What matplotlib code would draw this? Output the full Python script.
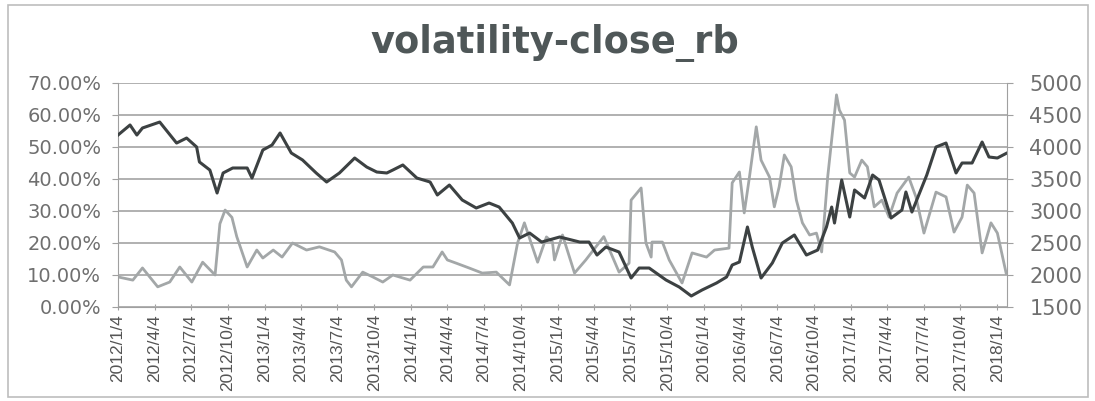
import matplotlib
matplotlib.use("Agg")
import matplotlib.pyplot as plt
import pandas as pd
from matplotlib.patches import Rectangle

title = "volatility-close_rb"

price_dates = ["2012-01-04","2012-02-03","2012-02-20","2012-03-05","2012-04-17","2012-05-29",
    "2012-06-23","2012-07-18","2012-07-25","2012-08-20","2012-09-07","2012-09-22","2012-10-16",
    "2012-11-21","2012-12-03","2012-12-30","2013-01-22","2013-02-11","2013-03-11","2013-04-08",
    "2013-05-12","2013-06-07","2013-07-09","2013-08-16","2013-09-15","2013-10-10","2013-11-04",
    "2013-11-19","2013-12-14","2014-01-18","2014-02-20","2014-03-10","2014-04-09","2014-05-11",
    "2014-06-15","2014-07-17","2014-08-11","2014-09-13","2014-10-01","2014-10-26","2014-11-25",
    "2015-01-09","2015-02-28","2015-03-23","2015-04-12","2015-05-04","2015-06-06","2015-07-06",
    "2015-07-26","2015-08-20","2015-10-01","2015-11-03","2015-12-03","2015-12-30","2016-02-04",
    "2016-02-29","2016-03-14","2016-04-01","2016-04-21","2016-05-03","2016-05-25","2016-06-22",
    "2016-07-17","2016-08-16","2016-09-15","2016-10-13","2016-11-04","2016-11-17","2016-11-24",
    "2016-12-12","2017-01-01","2017-01-13","2017-02-07","2017-02-27","2017-03-15","2017-04-14",
    "2017-05-11","2017-05-21","2017-06-05","2017-07-12","2017-08-04","2017-08-29","2017-09-23",
    "2017-10-08","2017-11-02","2017-11-27","2017-12-14","2018-01-04","2018-01-26"]
price_values = [4187,4344,4187,4297,4390,4062,4140,4000,3766,3640,3281,3594,3672,3672,3515,3953,
    4031,4219,3906,3797,3594,3453,3594,3828,3687,3609,3594,3640,3719,3515,3453,3250,3406,3172,
    3047,3125,3062,2812,2578,2656,2515,2594,2515,2515,2312,2437,2359,1953,2109,2109,1922,1812,
    1672,1766,1875,1969,2156,2203,2750,2437,1953,2187,2500,2625,2312,2390,2750,3062,2812,3484,
    2906,3328,3203,3562,3484,2890,3015,3297,2984,3562,4000,4062,3594,3750,3750,4078,3844,3828,3900]

vol_dates = ["2012-01-04","2012-02-10","2012-03-05","2012-03-23","2012-04-12","2012-05-12",
    "2012-06-06","2012-07-06","2012-08-02","2012-09-02","2012-09-14","2012-09-27","2012-10-14",
    "2012-10-26","2012-11-21","2012-12-15","2012-12-30","2013-01-25","2013-02-16","2013-03-14",
    "2013-04-18","2013-05-20","2013-06-27","2013-07-14","2013-07-26","2013-08-08","2013-09-05",
    "2013-09-30","2013-10-25","2013-11-19","2014-01-01","2014-02-03","2014-02-27","2014-03-22",
    "2014-04-04","2014-04-26","2014-05-28","2014-06-30","2014-08-04","2014-09-06","2014-09-26",
    "2014-10-13","2014-11-02","2014-11-15","2014-12-07","2014-12-22","2014-12-27","2015-01-16",
    "2015-02-15","2015-03-15","2015-04-29","2015-06-06","2015-07-01","2015-07-06","2015-07-31",
    "2015-08-12","2015-08-25","2015-08-27","2015-09-22","2015-10-09","2015-11-10","2015-12-05",
    "2016-01-10","2016-01-30","2016-03-06","2016-03-14","2016-04-01","2016-04-13","2016-04-26",
    "2016-05-13","2016-05-25","2016-06-15","2016-06-27","2016-07-09","2016-07-22","2016-08-08",
    "2016-08-21","2016-09-05","2016-09-23","2016-10-10","2016-10-23","2016-11-07","2016-11-29",
    "2016-12-06","2016-12-19","2017-01-01","2017-01-13","2017-01-31","2017-02-14","2017-03-03",
    "2017-03-22","2017-04-09","2017-04-29","2017-05-28","2017-06-15","2017-07-05","2017-08-04",
    "2017-08-29","2017-09-18","2017-10-08","2017-10-21","2017-11-07","2017-11-27","2017-12-19",
    "2018-01-04","2018-01-26"]
vol_values = [9.4,8.4,12.2,9.4,6.3,7.8,12.5,7.8,14.0,10.0,26.0,30.3,28.0,22.0,12.5,17.8,15.3,
    17.8,15.6,20.0,17.8,18.8,17.2,14.7,8.4,6.3,10.9,9.4,7.8,10.0,8.4,12.5,12.5,17.2,14.7,13.7,
    12.2,10.6,10.9,6.9,20.0,26.3,18.8,14.0,21.9,20.3,14.7,22.5,10.6,14.7,22.0,10.9,13.7,33.4,
    37.2,20.0,15.6,20.3,20.3,14.7,7.5,16.9,15.6,17.8,18.4,38.8,42.2,29.4,40.6,56.3,45.9,40.6,
    31.3,37.5,47.5,43.8,33.4,26.3,22.5,23.1,17.2,40.6,66.3,61.6,58.4,41.9,40.6,45.9,43.8,31.3,
    33.4,28.1,35.6,40.6,34.4,23.1,35.9,34.4,23.4,28.1,38.1,35.6,16.9,26.3,23.1,10.5]

tick_dates = ["2012-01-04","2012-04-04","2012-07-04","2012-10-04","2013-01-04","2013-04-04",
    "2013-07-04","2013-10-04","2014-01-04","2014-04-04","2014-07-04","2014-10-04","2015-01-04",
    "2015-04-04","2015-07-04","2015-10-04","2016-01-04","2016-04-04","2016-07-04","2016-10-04",
    "2017-01-04","2017-04-04","2017-07-04","2017-10-04","2018-01-04"]
tick_labels = ["2012/1/4","2012/4/4","2012/7/4","2012/10/4","2013/1/4","2013/4/4","2013/7/4",
    "2013/10/4","2014/1/4","2014/4/4","2014/7/4","2014/10/4","2015/1/4","2015/4/4","2015/7/4",
    "2015/10/4","2016/1/4","2016/4/4","2016/7/4","2016/10/4","2017/1/4","2017/4/4","2017/7/4",
    "2017/10/4","2018/1/4"]

left_ticks = [0, 10, 20, 30, 40, 50, 60, 70]
left_labels = ["0.00%","10.00%","20.00%","30.00%","40.00%","50.00%","60.00%","70.00%"]
right_ticks = [1500, 2000, 2500, 3000, 3500, 4000, 4500, 5000]

fig = plt.figure(figsize=(10.95, 4.01), dpi=100)
fig.patch.set_facecolor("white")
fig.patches.append(Rectangle((8/1095, 4/401), 1080/1095, 392/401, transform=fig.transFigure,
                             fill=False, edgecolor="#bdbdbd", linewidth=1.2))

ax = fig.add_axes([118/1095, 1 - 307/401, 889/1095, 224/401])
ax2 = ax.twinx()

vd = pd.to_datetime(vol_dates)
pdts = pd.to_datetime(price_dates)
ax.plot(vd, vol_values, color="#a3a7a8", linewidth=2.0)
ax2.plot(pdts, price_values, color="#3c4142", linewidth=2.2)

ax.set_ylim(0, 70)
ax2.set_ylim(1500, 5000)
ax.set_xlim(pd.Timestamp("2012-01-04"), pd.Timestamp("2018-01-28"))

ax.set_yticks(left_ticks)
ax.set_yticklabels(left_labels)
ax2.set_yticks(right_ticks)
ax2.set_yticklabels([str(v) for v in right_ticks])

td = pd.to_datetime(tick_dates)
ax.set_xticks(td)
ax.set_xticklabels(tick_labels, rotation=90, fontsize=12.5, family=["Liberation Sans", "DejaVu Sans"],
                   color="#555555")

ax.grid(axis="y", color="#b0b0b0", linewidth=1.4)
ax.set_axisbelow(True)

for a in (ax, ax2):
    a.spines["top"].set_visible(False)
    a.spines["left"].set_color("#a0a0a0")
    a.spines["right"].set_color("#a0a0a0")
    a.spines["bottom"].set_color("#a0a0a0")
ax.spines["right"].set_visible(False)
ax2.spines["left"].set_visible(False)
ax2.spines["bottom"].set_visible(False)

ax.tick_params(axis="y", length=4, color="#a0a0a0", labelsize=14, labelcolor="#6f6f6f", pad=8)
ax2.tick_params(axis="y", length=4, color="#a0a0a0", labelsize=15, labelcolor="#6f6f6f", pad=12)
ax.tick_params(axis="x", length=4, direction="inout", color="#a0a0a0", pad=3)

fig.text(555/1095, 1 - 43/401, title, ha="center", va="center", fontsize=26.5,
         fontweight="bold", color="#4f5758")

fig.savefig("out.png", dpi=100)
